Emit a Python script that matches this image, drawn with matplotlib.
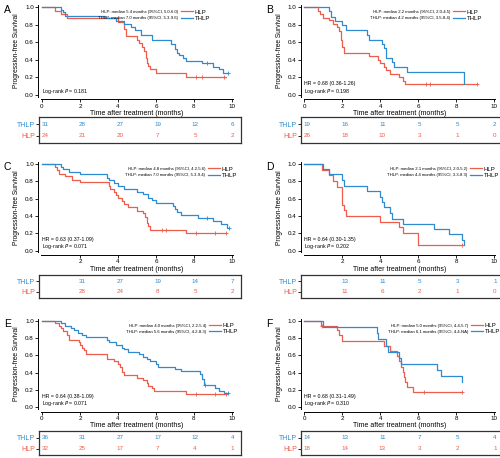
import numpy as np
import matplotlib
matplotlib.use("Agg")
import matplotlib.pyplot as plt
from matplotlib.lines import Line2D

plt.rcParams['font.family'] = ['Liberation Sans', 'DejaVu Sans']

RED = '#EE5C4B'
BLUE = '#2F8AD0'

# ---- Panel A ----
a_hlp_t = [0.7, 1.0, 1.3, 4.0, 4.3, 4.4, 5.0, 5.1, 5.25, 5.35, 5.45, 5.5, 5.6, 5.7, 6.0, 7.6]
a_hlp_s = [0.96, 0.92, 0.88, 0.83, 0.75, 0.67, 0.63, 0.59, 0.55, 0.50, 0.42, 0.36, 0.33, 0.29, 0.25, 0.21]
a_hlp_cens = [8.1, 8.4, 9.6]
a_hlp_end = 9.7
a_thlp_t = [1.0, 1.1, 1.2, 3.3, 3.9, 4.3, 4.7, 4.9, 5.2, 5.8, 6.8, 7.0, 7.1, 7.2, 7.4, 7.6, 8.4, 9.0, 9.3, 9.5]
a_thlp_s = [0.97, 0.94, 0.90, 0.87, 0.84, 0.81, 0.77, 0.74, 0.68, 0.62, 0.58, 0.52, 0.48, 0.45, 0.42, 0.39, 0.36, 0.32, 0.29, 0.25]
a_thlp_cens = [8.7, 9.8]
a_thlp_end = 9.8
a_times = [0, 2, 4, 6, 8, 10]
a_risk_thlp = [31, 28, 27, 19, 12, 6]
a_risk_hlp = [24, 21, 20, 7, 5, 2]
a_med = ['HLP: median 5.4 months (95%CI, 5.0-6.0)', 'THLP: median 7.0 months (95%CI, 5.3-9.6)']
a_hr = None
a_p = '0.181'

# ---- Panel B ----
b_hlp_t = [0.7, 0.8, 1.0, 1.3, 1.5, 1.7, 1.85, 1.95, 2.0, 2.1, 3.4, 3.9, 4.0, 4.2, 4.3, 4.5, 5.0, 5.2, 5.3]
b_hlp_s = [0.96, 0.92, 0.88, 0.85, 0.81, 0.77, 0.73, 0.62, 0.54, 0.48, 0.44, 0.40, 0.36, 0.32, 0.28, 0.24, 0.20, 0.16, 0.12]
b_hlp_cens = [6.4, 6.6, 9.1]
b_hlp_end = 9.1
b_thlp_t = [1.3, 1.4, 1.6, 2.0, 2.2, 3.3, 3.4, 4.1, 4.2, 4.3, 4.6, 4.7, 5.4, 8.4]
b_thlp_s = [0.95, 0.89, 0.84, 0.79, 0.74, 0.68, 0.63, 0.58, 0.53, 0.42, 0.37, 0.32, 0.26, 0.12]
b_thlp_cens = []
b_thlp_end = 8.42
b_times = [0, 2, 4, 6, 8, 10]
b_risk_thlp = [19, 16, 11, 5, 5, 2]
b_risk_hlp = [26, 18, 10, 3, 1, 0]
b_med = ['HLP: median 2.2 months (95%CI, 2.0-4.5)', 'THLP: median 4.2 months (95%CI, 3.5-8.4)']
b_hr = '0.68 (0.36-1.26)'
b_p = '0.198'

# ---- Panel C ----
c_hlp_t = [0.7, 0.8, 0.9, 1.2, 1.6, 2.0, 3.5, 3.6, 3.8, 3.9, 4.0, 4.2, 4.3, 4.5, 5.0, 5.3, 5.4, 5.5, 5.55, 5.6, 5.7, 7.6]
c_hlp_s = [0.96, 0.93, 0.89, 0.86, 0.82, 0.79, 0.75, 0.71, 0.68, 0.64, 0.61, 0.57, 0.54, 0.50, 0.46, 0.43, 0.39, 0.36, 0.32, 0.29, 0.24, 0.20]
c_hlp_cens = [6.3, 6.5, 8.1, 9.1, 9.7]
c_hlp_end = 9.7
c_thlp_t = [1.0, 1.1, 1.4, 2.0, 3.4, 3.5, 3.8, 4.0, 4.3, 5.0, 5.3, 5.6, 5.8, 6.0, 6.9, 7.0, 7.1, 7.3, 8.2, 9.0, 9.4, 9.75]
c_thlp_s = [0.97, 0.94, 0.91, 0.88, 0.84, 0.81, 0.78, 0.75, 0.71, 0.68, 0.65, 0.61, 0.58, 0.55, 0.52, 0.48, 0.45, 0.41, 0.38, 0.34, 0.31, 0.26]
c_thlp_cens = [8.7, 9.85]
c_thlp_end = 9.85
c_times = [2, 4, 6, 8, 10]
c_risk_thlp = [31, 27, 19, 14, 7]
c_risk_hlp = [28, 24, 8, 5, 2]
c_med = ['HLP: median 4.8 months (95%CI, 4.2-5.6)', 'THLP: median 7.0 months (95%CI, 5.3-9.4)']
c_hr = '0.63 (0.37-1.09)'
c_p = '0.071'

# ---- Panel D ----
d_hlp_t = [0.95, 1.3, 1.5, 1.7, 2.0, 2.1, 2.2, 4.0, 5.0, 5.2, 6.0]
d_hlp_s = [0.93, 0.87, 0.80, 0.73, 0.53, 0.47, 0.40, 0.33, 0.27, 0.20, 0.07]
d_hlp_cens = [8.3]
d_hlp_end = 8.3
d_thlp_t = [1.0, 1.3, 2.0, 2.1, 3.3, 4.0, 4.1, 4.2, 4.5, 4.6, 5.2, 6.8, 7.6, 8.3, 8.4]
d_thlp_s = [0.94, 0.88, 0.81, 0.75, 0.69, 0.62, 0.56, 0.50, 0.44, 0.37, 0.31, 0.25, 0.19, 0.12, 0.07]
d_thlp_cens = []
d_thlp_end = 8.42
d_times = [2, 4, 6, 8, 10]
d_risk_thlp = [13, 11, 5, 3, 1]
d_risk_hlp = [11, 6, 2, 1, 0]
d_med = ['HLP: median 2.1 months (95%CI, 2.0-5.2)', 'THLP: median 4.4 months (95%CI, 3.3-8.3)']
d_hr = '0.64 (0.30-1.35)'
d_p = '0.202'

# ---- Panel E ----
e_hlp_t = [0.7, 0.9, 1.0, 1.1, 1.3, 1.4, 1.95, 2.0, 2.1, 2.2, 2.3, 3.4, 3.8, 4.0, 4.1, 4.2, 4.3, 5.0, 5.3, 5.5, 5.6, 5.8, 5.9, 7.6]
e_hlp_s = [0.97, 0.94, 0.91, 0.88, 0.84, 0.78, 0.75, 0.72, 0.69, 0.66, 0.62, 0.56, 0.53, 0.50, 0.47, 0.41, 0.37, 0.34, 0.31, 0.28, 0.25, 0.22, 0.19, 0.15]
e_hlp_cens = [8.1, 9.1, 9.7]
e_hlp_end = 9.7
e_thlp_t = [1.0, 1.2, 1.5, 1.7, 1.9, 2.1, 2.3, 3.4, 3.5, 3.9, 4.2, 4.3, 4.5, 5.1, 5.3, 5.5, 5.7, 6.0, 6.1, 7.0, 7.3, 8.3, 8.4, 8.5, 8.55, 9.1, 9.3, 9.6]
e_thlp_s = [0.97, 0.94, 0.92, 0.89, 0.86, 0.83, 0.81, 0.78, 0.75, 0.72, 0.69, 0.67, 0.64, 0.61, 0.58, 0.56, 0.53, 0.50, 0.47, 0.44, 0.42, 0.38, 0.33, 0.29, 0.26, 0.22, 0.19, 0.16]
e_thlp_cens = [8.6, 9.8]
e_thlp_end = 9.8
e_times = [0, 2, 4, 6, 8, 10]
e_risk_thlp = [36, 31, 27, 17, 12, 4]
e_risk_hlp = [32, 25, 17, 7, 4, 1]
e_med = ['HLP: median 4.0 months (95%CI, 2.2-5.4)', 'THLP: median 5.6 months (95%CI, 4.2-8.3)']
e_hr = '0.64 (0.38-1.09)'
e_p = '0.071'

# ---- Panel F ----
f_hlp_t = [0.9, 1.7, 1.8, 2.0, 4.2, 4.5, 4.9, 5.0, 5.1, 5.2, 5.25, 5.3, 5.4, 5.7]
f_hlp_s = [0.94, 0.89, 0.83, 0.77, 0.71, 0.65, 0.59, 0.53, 0.47, 0.41, 0.35, 0.29, 0.24, 0.18]
f_hlp_cens = [0.95, 6.3, 8.3]
f_hlp_end = 8.3
f_thlp_t = [1.0, 3.8, 3.9, 4.3, 4.4, 5.0, 5.1, 7.0, 7.2, 8.3]
f_thlp_s = [0.93, 0.86, 0.79, 0.71, 0.64, 0.57, 0.50, 0.43, 0.36, 0.29]
f_thlp_cens = []
f_thlp_end = 8.32
f_times = [0, 2, 4, 6, 8, 10]
f_risk_thlp = [14, 13, 11, 7, 5, 4]
f_risk_hlp = [18, 14, 13, 3, 2, 1]
f_med = ['HLP: median 5.0 months (95%CI, 4.4-5.7)', 'THLP: median 6.1 months (95%CI, 4.4-NA)']
f_hr = '0.68 (0.31-1.49)'
f_p = '0.310'

panels = [
    ('A', 0, 0, a_hlp_t, a_hlp_s, a_hlp_cens, a_hlp_end, a_thlp_t, a_thlp_s, a_thlp_cens, a_thlp_end,
     a_times, a_risk_thlp, a_risk_hlp, a_med, a_hr, a_p, 7.32),
    ('B', 1, 0, b_hlp_t, b_hlp_s, b_hlp_cens, b_hlp_end, b_thlp_t, b_thlp_s, b_thlp_cens, b_thlp_end,
     b_times, b_risk_thlp, b_risk_hlp, b_med, b_hr, b_p, 7.83),
    ('C', 0, 1, c_hlp_t, c_hlp_s, c_hlp_cens, c_hlp_end, c_thlp_t, c_thlp_s, c_thlp_cens, c_thlp_end,
     c_times, c_risk_thlp, c_risk_hlp, c_med, c_hr, c_p, 8.74),
    ('D', 1, 1, d_hlp_t, d_hlp_s, d_hlp_cens, d_hlp_end, d_thlp_t, d_thlp_s, d_thlp_cens, d_thlp_end,
     d_times, d_risk_thlp, d_risk_hlp, d_med, d_hr, d_p, 8.72),
    ('E', 0, 2, e_hlp_t, e_hlp_s, e_hlp_cens, e_hlp_end, e_thlp_t, e_thlp_s, e_thlp_cens, e_thlp_end,
     e_times, e_risk_thlp, e_risk_hlp, e_med, e_hr, e_p, 8.79),
    ('F', 1, 2, f_hlp_t, f_hlp_s, f_hlp_cens, f_hlp_end, f_thlp_t, f_thlp_s, f_thlp_cens, f_thlp_end,
     f_times, f_risk_thlp, f_risk_hlp, f_med, f_hr, f_p, 8.77),
]

# layout in pixels
W, H = 500, 458
col_x0 = [42, 304.3]          # pixel of time 0
row_y1 = [7, 164, 320.7]      # pixel of survival 1.0
row_y0 = [95, 250.7, 407.3]   # pixel of survival 0.0
box_top = [117, 275, 431]
box_bot = [143, 298, 455]
PXM = 19.0                    # pixels per month


def rect(left, top, right, bottom):
    return [left / W, 1 - bottom / H, (right - left) / W, (bottom - top) / H]


def surv_at(t, s, x):
    i = np.searchsorted(t, x, side='right')
    return 1.0 if i == 0 else s[i - 1]


def km(ax, t, s, cens, end, color):
    xs = [0] + list(t) + [end]
    ys = [1.0] + list(s) + [s[-1]]
    ax.step(xs, ys, where='post', color=color, lw=0.9)
    if cens:
        ax.plot(cens, [surv_at(t, s, c) for c in cens], '+', color=color, ms=3.5, mew=0.6)


fig = plt.figure(figsize=(5, 4.58), dpi=100)

for (letter, col, row, ht, hs, hc, he, tt, ts, tc, te,
     times, r_thlp, r_hlp, med, hr, p, key_x) in panels:
    x0 = col_x0[col]
    y1, y0 = row_y1[row], row_y0[row]
    h = y0 - y1
    ax = fig.add_axes(rect(x0 - 0.2 * PXM, y1 - 0.05 * h, x0 + 10.2 * PXM, y0 + 0.05 * h))
    ax.set_xlim(-0.2, 10.2)
    ax.set_ylim(-0.05, 1.05)
    km(ax, ht, hs, hc, he, RED)
    km(ax, tt, ts, tc, te, BLUE)

    for sp in ['top', 'right']:
        ax.spines[sp].set_visible(False)
    ax.spines['left'].set_bounds(-0.02, 1.02)
    ax.spines['bottom'].set_bounds(-0.03, 10.03)
    for sp in ['left', 'bottom']:
        ax.spines[sp].set_linewidth(0.7)
    ax.set_xticks(times)
    ax.set_yticks([0, 0.2, 0.4, 0.6, 0.8, 1.0])
    ax.set_yticklabels(['0.0', '0.2', '0.4', '0.6', '0.8', '1.0'])
    ax.tick_params(length=2, width=0.6, labelsize=4.5, pad=1.2)
    ax.set_xlabel('Time after treatment (months)', fontsize=5)
    ax.set_ylabel('Progression-free Survival', fontsize=4.8)
    ax.xaxis.set_label_coords(0.5, -0.11)
    ax.yaxis.set_label_coords(-0.09, 0.5)

    # legend and medians
    ky = [1 - 5 / h, 1 - 11 / h]
    ax.text(key_x - 3 / PXM, ky[0], med[0], fontsize=3.1, ha='right', va='center')
    ax.text(key_x - 3 / PXM, ky[1], med[1], fontsize=3.1, ha='right', va='center')
    handles = [Line2D([], [], color=RED, lw=0.9), Line2D([], [], color=BLUE, lw=0.9)]
    ax.legend(handles, ['HLP', 'THLP'], loc='center left',
              bbox_to_anchor=((key_x + 0.2) / 10.4, ((ky[0] + ky[1]) / 2 + 0.05) / 1.1),
              frameon=False, fontsize=4.3, handlelength=2.0, handletextpad=0.3,
              labelspacing=0.15, borderpad=0, borderaxespad=0)

    if hr:
        ax.text(0, 0.125, 'HR = ' + hr, fontsize=3.8, va='center')
    ax.text(0, 0.045, 'Log-rank $\\it{P}$ = ' + p, fontsize=3.8, va='center')

    fig.text((x0 - 40 + 2) / W, 1 - (y1 - 2) / H, letter, fontsize=7.5, va='top', ha='left')

    # risk table
    tb = fig.add_axes(rect(x0 - 3, box_top[row], x0 + 199, box_bot[row]))
    tb.set_xlim(-6 / 18.75, 196 / 18.75)
    tb.set_ylim(0, 1)
    for k, tm in enumerate(times):
        tb.text(tm, 0.72, str(r_thlp[k]), color=BLUE, fontsize=4.5, ha='center', va='center')
        tb.text(tm, 0.27, str(r_hlp[k]), color=RED, fontsize=4.5, ha='center', va='center')
    tb.set_xticks([])
    tb.set_yticks([0.27, 0.72])
    tb.set_yticklabels(['HLP', 'THLP'], fontsize=5)
    tb.get_yticklabels()[0].set_color(RED)
    tb.get_yticklabels()[1].set_color(BLUE)
    tb.tick_params(axis='y', length=2, width=0.6, pad=1)
    for sp in tb.spines.values():
        sp.set_linewidth(0.9)
        sp.set_color('#333333')

fig.savefig('out.png', dpi=100)
